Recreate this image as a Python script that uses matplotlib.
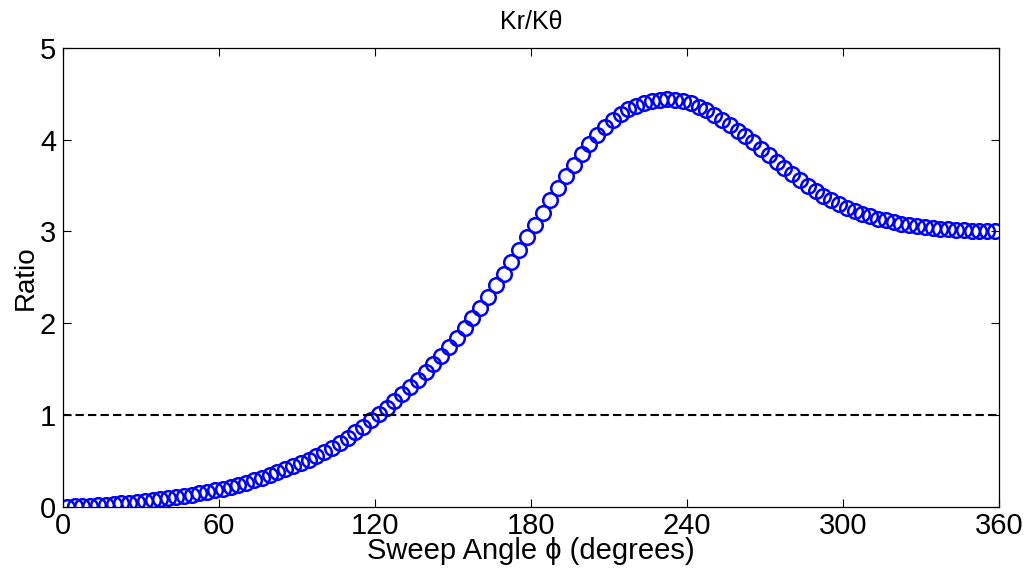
"""Kr/Ktheta ratio versus sweep angle (MATLAB-style figure)."""

import matplotlib
matplotlib.use('Agg')
import matplotlib.pyplot as plt

plt.rcParams['font.family'] = ['Liberation Sans', 'DejaVu Sans']
plt.rcParams['font.size'] = 20

# Sweep angle (degrees), one marker every 3 degrees
angle = [
    1.5, 4.5, 7.5, 10.5, 13.5, 16.5, 19.5, 22.5, 25.5, 28.5, 31.5, 34.5,
    37.5, 40.5, 43.5, 46.5, 49.5, 52.5, 55.5, 58.5, 61.5, 64.5, 67.5, 70.5,
    73.5, 76.5, 79.5, 82.5, 85.5, 88.5, 91.5, 94.5, 97.5, 100.5, 103.5, 106.5,
    109.5, 112.5, 115.5, 118.5, 121.5, 124.5, 127.5, 130.5, 133.5, 136.5, 139.5, 142.5,
    145.5, 148.5, 151.5, 154.5, 157.5, 160.5, 163.5, 166.5, 169.5, 172.5, 175.5, 178.5,
    181.5, 184.5, 187.5, 190.5, 193.5, 196.5, 199.5, 202.5, 205.5, 208.5, 211.5, 214.5,
    217.5, 220.5, 223.5, 226.5, 229.5, 232.5, 235.5, 238.5, 241.5, 244.5, 247.5, 250.5,
    253.5, 256.5, 259.5, 262.5, 265.5, 268.5, 271.5, 274.5, 277.5, 280.5, 283.5, 286.5,
    289.5, 292.5, 295.5, 298.5, 301.5, 304.5, 307.5, 310.5, 313.5, 316.5, 319.5, 322.5,
    325.5, 328.5, 331.5, 334.5, 337.5, 340.5, 343.5, 346.5, 349.5, 352.5, 355.5, 358.5,
]

# Kr / Ktheta
ratio = [
    0.000, 0.002, 0.005, 0.009, 0.015, 0.021, 0.028, 0.035, 0.043, 0.052, 0.061, 0.071,
    0.082, 0.093, 0.105, 0.118, 0.131, 0.145, 0.160, 0.176, 0.195, 0.215, 0.237, 0.261,
    0.287, 0.315, 0.345, 0.377, 0.410, 0.443, 0.477, 0.512, 0.550, 0.592, 0.640, 0.693,
    0.750, 0.810, 0.873, 0.940, 1.010, 1.080, 1.155, 1.230, 1.305, 1.385, 1.470, 1.555,
    1.645, 1.740, 1.840, 1.945, 2.055, 2.170, 2.290, 2.415, 2.540, 2.670, 2.800, 2.935,
    3.070, 3.205, 3.340, 3.470, 3.600, 3.720, 3.840, 3.950, 4.050, 4.140, 4.220, 4.280,
    4.330, 4.370, 4.400, 4.420, 4.435, 4.440, 4.435, 4.420, 4.395, 4.360, 4.320, 4.270,
    4.220, 4.160, 4.100, 4.040, 3.970, 3.900, 3.830, 3.760, 3.690, 3.625, 3.560, 3.500,
    3.445, 3.390, 3.340, 3.300, 3.260, 3.225, 3.190, 3.165, 3.140, 3.120, 3.100, 3.085,
    3.070, 3.060, 3.048, 3.038, 3.030, 3.022, 3.016, 3.011, 3.007, 3.004, 3.002, 3.001,
]

reference_level = 1.0
x_ticks = [0, 60, 120, 180, 240, 300, 360]
y_ticks = [0, 1, 2, 3, 4, 5]

fig = plt.figure(figsize=(10.27, 5.75), dpi=100)
ax = fig.add_axes([0.0613, 0.119, 0.9114, 0.7975])

ax.plot(angle, ratio, 'o', markersize=10.5, markerfacecolor='none',
        markeredgecolor='#0000ff', markeredgewidth=1.8)
ax.axhline(reference_level, color='black', linewidth=1.5, linestyle=(0, (4, 2)))

ax.set_xlim(0, 360)
ax.set_ylim(0, 5)
ax.set_xticks(x_ticks)
ax.set_yticks(y_ticks)
ax.tick_params(direction='in', length=6, width=0.8, top=True, right=True, labelsize=21)
ax.tick_params(axis='x', pad=4)
ax.tick_params(axis='y', pad=5)
for s in ax.spines.values():
    s.set_linewidth(0.9)

ax.set_title('Kr/K\u03b8', fontsize=18, pad=14)
ax.set_xlabel('Sweep Angle \u03d5 (degrees)', fontsize=21, labelpad=-2)
ax.set_ylabel('Ratio', fontsize=20, labelpad=1)

fig.savefig('out.png', dpi=100)
